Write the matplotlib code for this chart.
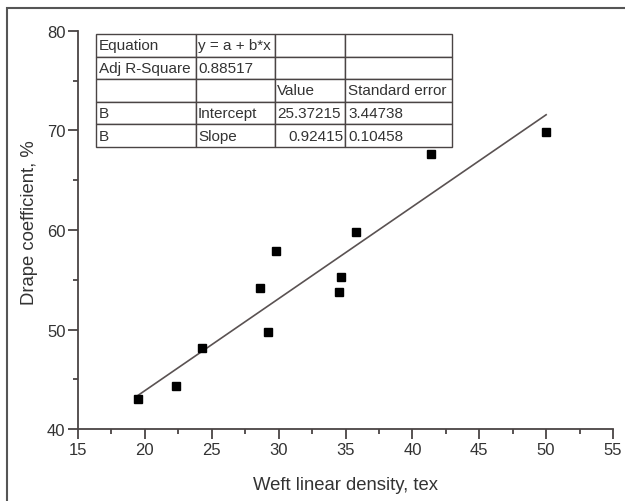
import numpy as np
import matplotlib
matplotlib.use('Agg')
import matplotlib.pyplot as plt
from matplotlib.patches import Rectangle
from matplotlib.ticker import MultipleLocator

plt.rcParams['font.family'] = ['Liberation Sans', 'DejaVu Sans']

# weft linear density (tex) vs drape coefficient (%)
tex = [19.5, 22.3, 24.3, 28.6, 29.2, 29.8, 34.5, 34.7, 35.8, 41.4, 50.0]
drape = [43.0, 44.3, 48.1, 54.2, 49.7, 57.9, 53.8, 55.3, 59.8, 67.6, 69.8]

intercept = 25.37215
slope = 0.92415

table_rows = [
    ['Equation', 'y = a + b*x', '', ''],
    ['Adj R-Square', '0.88517', '', ''],
    ['', '', 'Value', 'Standard error'],
    ['B', 'Intercept', '25.37215', '3.44738'],
    ['B', 'Slope', '0.92415', '0.10458'],
]

txt = '#333333'
ln = '#4a4444'

fig = plt.figure(figsize=(6.25, 5.02), dpi=100)
ax = fig.add_axes([0.1248, 0.1434, 0.856, 0.7929])

xfit = np.array([min(tex), max(tex)])
ax.plot(xfit, intercept + slope * xfit, color='#5a5252', lw=1.2)
ax.plot(tex, drape, 's', color='black', ms=6)

ax.set_xlim(15, 55)
ax.set_ylim(40, 80)
ax.xaxis.set_major_locator(MultipleLocator(5))
ax.xaxis.set_minor_locator(MultipleLocator(2.5))
ax.yaxis.set_major_locator(MultipleLocator(10))
ax.yaxis.set_minor_locator(MultipleLocator(5))
for s in ['top', 'right']:
    ax.spines[s].set_visible(False)
for s in ['left', 'bottom']:
    ax.spines[s].set_color(ln)
    ax.spines[s].set_linewidth(1.3)
ax.tick_params(which='major', direction='out', length=7, width=1.3, color=ln,
               labelsize=12, labelcolor=txt, pad=2)
ax.tick_params(which='minor', direction='out', length=3.5, width=1.3, color=ln)

ax.set_xlabel('Weft linear density, tex', fontsize=13.3, color=txt, labelpad=14)
ax.set_ylabel('Drape coefficient, %', fontsize=13.3, color=txt)
ax.yaxis.set_label_coords(-0.075, 0.52)

tb = ax.table(cellText=table_rows, colWidths=[0.28, 0.223, 0.197, 0.30],
              cellLoc='left', bbox=[0.0336, 0.7085, 0.6654, 0.284])
tb.auto_set_font_size(False)
tb.set_fontsize(11)
for (r, c), cell in tb.get_celld().items():
    cell.set_edgecolor(ln)
    cell.set_linewidth(1.0)
    cell.PAD = 0.03
    cell.get_text().set_color(txt)
tb[(4, 2)]._loc = 'right'
tb[(4, 2)].get_text().set_ha('right')

fig.patches.append(Rectangle((7 / 625, -0.5), 1.5, 1.5 - 9 / 502,
                             transform=fig.transFigure, fill=False,
                             edgecolor='#555555', lw=1.5))

fig.savefig('out.png', dpi=100)
